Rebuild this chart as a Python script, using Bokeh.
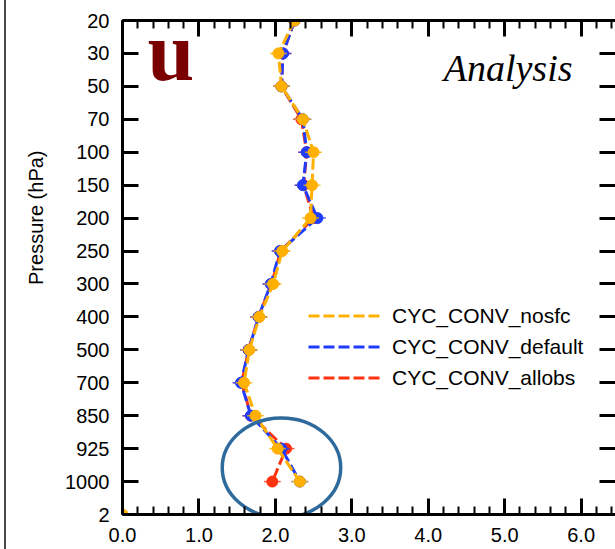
import math
from bokeh.plotting import figure
from bokeh.models import (Range1d, FixedTicker, Legend, LegendItem, Label, Title,
                          LinearAxis, PrintfTickFormatter, Div, CustomLabelingPolicy)
from bokeh.layouts import row
from bokeh.embed import file_html
from bokeh.resources import INLINE

# ---------------- data ----------------
levels = ["20", "30", "50", "70", "100", "150", "200", "250", "300",
          "400", "500", "700", "850", "925", "1000"]
bottom_label = "2"
nosfc = [2.25, 2.04, 2.08, 2.36, 2.50, 2.48, 2.46, 2.09, 1.97,
         1.79, 1.66, 1.59, 1.74, 2.03, 2.32]
default = [2.25, 2.10, 2.08, 2.36, 2.41, 2.36, 2.55, 2.06, 1.94,
           1.78, 1.65, 1.55, 1.68, 2.08, 2.32]
allobs = [2.25, 2.10, 2.08, 2.34, 2.41, 2.37, 2.50, 2.07, 1.95,
          1.78, 1.65, 1.56, 1.68, 2.14, 1.96]
surface_value = [0.0]
spread = 0.11
x_ticks = [0, 1, 2, 3, 4, 5, 6]
series_names = ["CYC_CONV_nosfc", "CYC_CONV_default", "CYC_CONV_allobs"]
series_colors = ["#FFB000", "#1F3CFF", "#FF3210"]

# highlight ellipse (annotation)
ell_x, ell_y, ell_w, ell_h = 2.08, 13.58, 1.55, 3.03

FONT = "Liberation Sans"

p = figure(width=609, height=549,
           x_range=Range1d(0, 6.45), y_range=Range1d(15, 0),
           output_backend="svg", toolbar_location=None,
           min_border_left=116, min_border_right=0,
           min_border_top=20, min_border_bottom=35)
p.outline_line_color = None
p.xgrid.visible = False
p.ygrid.visible = False

ypos = list(range(len(levels)))
minor = [round(i * 0.2, 1) for i in range(0, 33)]

# bottom axis
xa = p.xaxis[0]
xa.ticker = FixedTicker(ticks=x_ticks, minor_ticks=minor)
xa.formatter = PrintfTickFormatter(format="%.1f")
# left axis
ya = p.yaxis[0]
ya.ticker = FixedTicker(ticks=list(range(len(levels) + 1)))
overrides = {i: lab for i, lab in enumerate(levels)}
overrides[len(levels)] = bottom_label
ya.major_label_overrides = overrides

top = LinearAxis(ticker=FixedTicker(ticks=x_ticks, minor_ticks=minor))
right = LinearAxis(ticker=FixedTicker(ticks=list(range(len(levels) + 1))))
p.add_layout(top, "above")
p.add_layout(right, "right")

for ax in (xa, ya, top, right):
    ax.axis_line_width = 3
    ax.axis_line_color = "black"
    ax.major_tick_in = 16
    ax.major_tick_out = 0
    ax.major_tick_line_width = 3
    ax.minor_tick_in = 8
    ax.minor_tick_out = 0
    ax.minor_tick_line_width = 2
    ax.major_label_text_font = FONT
    ax.major_label_text_font_size = "20px"
    ax.major_label_text_color = "black"
    ax.major_label_standoff = 13
for ax in (ya, right):
    ax.minor_tick_line_color = None
hide_all = CustomLabelingPolicy(code="""
    for (const i of Array.from(indices)) { indices.unset(i) }
    return indices
""")
for ax in (top, right):
    ax.major_label_text_font_size = "0px"
    ax.major_label_standoff = 0
    ax.major_label_policy = hide_all
right.axis_line_color = "#8a8a8a"
right.axis_line_width = 1

# y-axis title, shifted up like the reference
p.add_layout(Title(text="Pressure (hPa)", align="right", offset=130,
                   text_font=FONT, text_font_size="20px",
                   text_font_style="normal", text_color="black",
                   standoff=32), "left")

# series: draw red first, then blue, then orange on top
series = [nosfc, default, allobs]
renderers = {}
for vals, col, name in zip(reversed(series), reversed(series_colors),
                           reversed(series_names)):
    r = p.line(vals, ypos, line_color=col, line_width=3, line_dash="11 4")
    renderers[name] = r
    p.segment(x0=[v - spread for v in vals], x1=[v + spread for v in vals],
              y0=ypos, y1=ypos, line_color=col, line_width=1.5, line_alpha=0.8)
    p.scatter(vals, ypos, size=11, fill_color=col, line_color=col)

# surface point
p.scatter(surface_value, [len(levels)], size=11,
          fill_color=series_colors[0], line_color=series_colors[0])

p.ellipse(x=ell_x, y=ell_y, width=ell_w, height=ell_h, fill_color=None,
          line_color="#2F6A9C", line_width=3.5)

items = [LegendItem(label=name, renderers=[renderers[name]])
         for name in series_names]
leg = Legend(items=items, location=(186, 124), glyph_width=72,
             glyph_height=25, label_height=25, spacing=6, label_standoff=12,
             padding=0, margin=0, border_line_color=None,
             background_fill_alpha=0, label_text_font=FONT,
             label_text_font_size="21px", label_text_color="black")
p.add_layout(leg)

p.add_layout(Label(x=25, y=463, x_units="screen", y_units="screen",
                   text="u", text_align="left", text_baseline="alphabetic",
                   text_font="Liberation Serif", text_font_style="bold",
                   text_font_size="84px", text_color="#7A0000"))
p.add_layout(Label(x=450, y=447, x_units="screen", y_units="screen",
                   text="Analysis", text_align="right",
                   text_baseline="alphabetic",
                   text_font="Liberation Serif", text_font_style="italic",
                   text_font_size="38px", text_color="black"))

border = Div(width=6, height=549, margin=0,
             styles={"box-sizing": "border-box",
                     "border-right": "2px solid #4a4a4a"})
layout = row(border, p, spacing=0)

open("out.html", "w").write(file_html(layout, INLINE))
